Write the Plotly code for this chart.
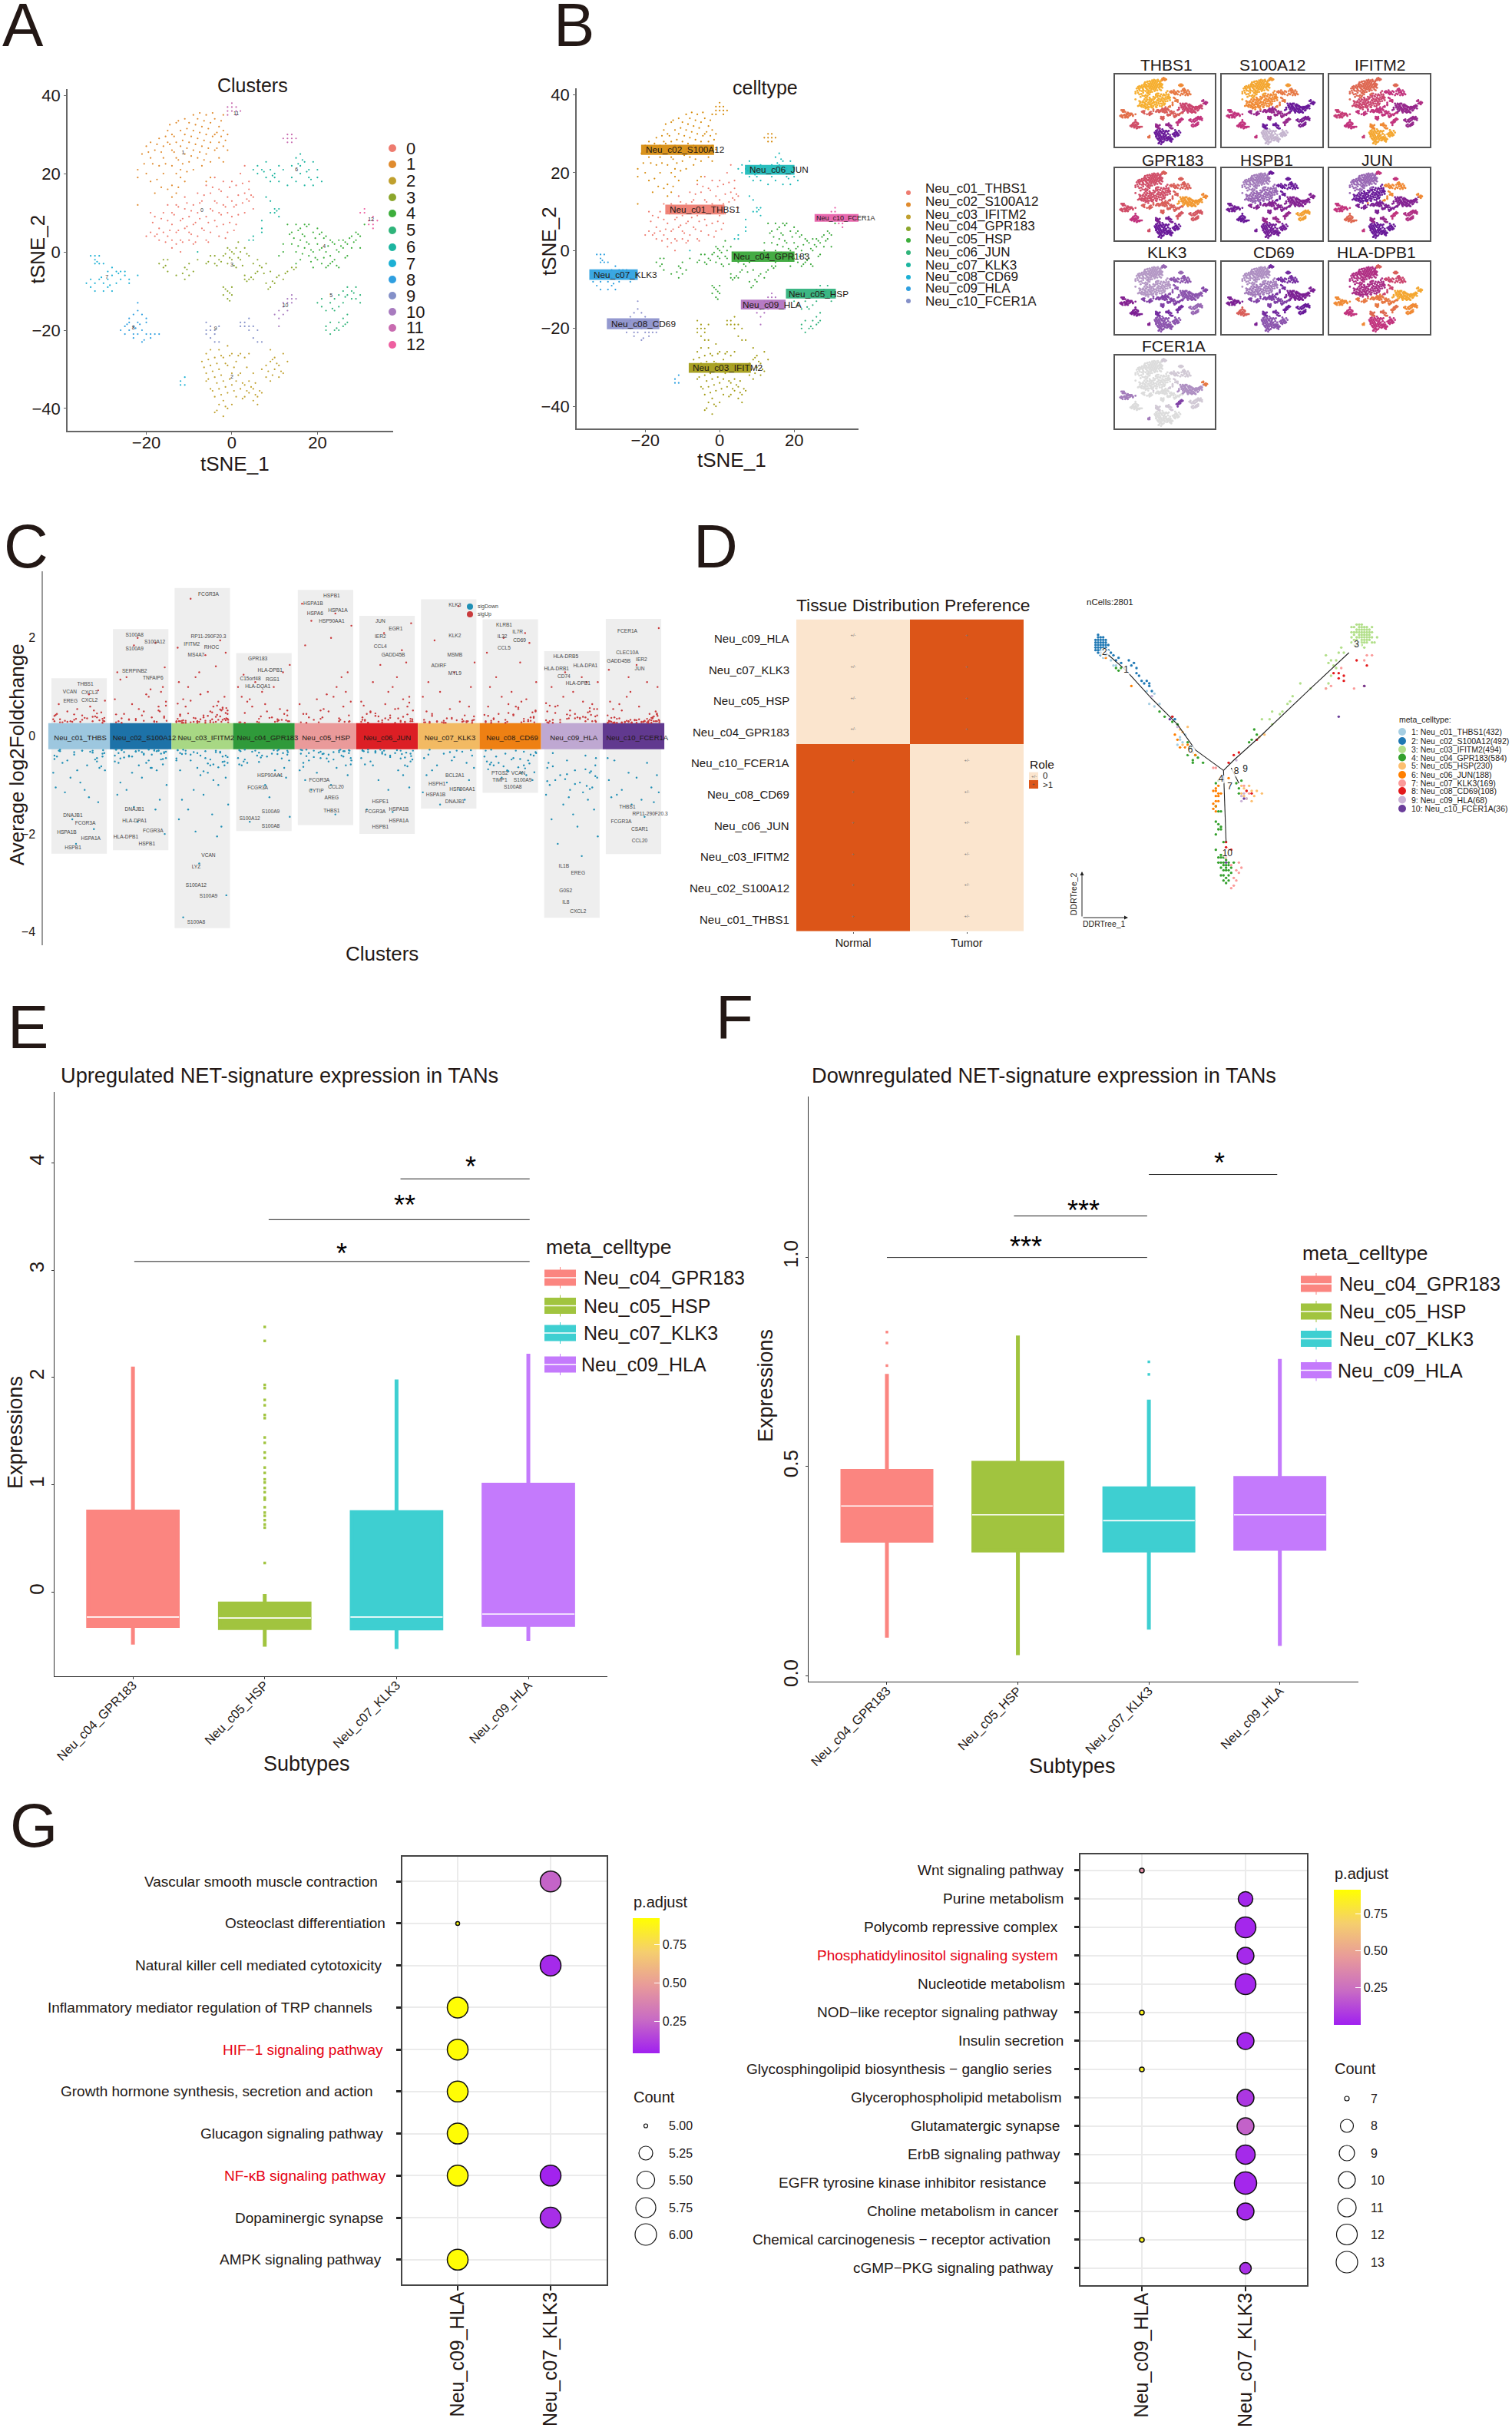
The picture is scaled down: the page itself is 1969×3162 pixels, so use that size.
import plotly.graph_objects as go

W, H = 1969, 3162
SANS = 'Liberation Sans'

# tSNE points, one list per cluster
CL0 = [(-20,4),(-19,5),(-18,4),(-19,10),(-18,9),(-17,6),(-17,3),(-16,5),(-16,10),(-15,4),(-15,8),(-15,12),(-14,3),(-14,7),(-14,10),(-13,5),(-13,2),(-13,12),(-12,8),(-12,3),(-11,6),(-11,11),(-11,14),(-10,3),(-10,9),(-10,5),(-9,2),(-9,12),(-9,7),(-8,4),(-8,10),(-8,15),(-7,6),(-7,13),(-6,3),(-6,9),(-6,17),(-5,5),(-5,11),(-5,15),(-4,8),(-4,13),(-4,19),(-3,4),(-3,10),(-3,16),(-2,7),(-2,12),(-2,18),(-1,5),(-1,10),(-1,14),(0,9),(0,13),(0,18),(1,7),(1,12),(1,17),(2,20),(3,22),(3,15),(3,10),(4,16),(4,13),(5,14),(5,11),(4,18),(-12,0),(-14,1),
       (-18.5,7.5),(-17.5,4.5),(-16.5,8.5),(-15.5,2.5),(-14.5,5.5),(-13.5,9.5),(-12.5,5.5),(-12.5,11.5),(-11.5,2.5),(-11.5,8.5),(-10.5,6.5),(-10.5,12.5),(-9.5,4.5),(-9.5,10.5),(-8.5,2.5),(-8.5,7.5),(-7.5,12.5),(-7.5,8.5),(-6.5,5.5),(-6.5,14.5),(-5.5,7.5),(-5.5,2.5),(-4.5,10.5),(-4.5,16.5),(-3.5,6.5),(-3.5,12.5),(-2.5,9.5),(-2.5,15.5),(-1.5,3.5),(-1.5,11.5),(-.5,7.5),(-.5,16.5),(.5,11.5),(.5,5.5),(1.5,14.5),(1.5,9.5),(2.5,12.5),(2.5,17.5),(3.5,13.5),(4.5,14.5)]
CL1 = [(-21,25),(-20,27),(-19,28),(-19,24),(-18,26),(-17,29),(-16,27),(-16,24),(-15,31),(-15,28),(-14,26),(-14,22),(-14,30),(-13,33),(-13,28),(-13,24),(-12,31),(-12,27),(-12,21),(-11,34),(-11,30),(-11,25),(-10,33),(-10,28),(-10,23),(-9,35),(-9,31),(-9,26),(-9,21),(-8,34),(-8,29),(-8,24),(-7,32),(-7,27),(-7,22),(-6,35),(-6,30),(-6,25),(-5,33),(-5,28),(-5,23),(-4,34),(-4,30),(-4,26),(-3,32),(-3,28),(-3,24),(-2,35),(-2,31),(-2,27),(-1,30),(-1,26),(-2,23),(-22,21),(-22,19),(-20,20),(-19,18),(-18,15),(-15,16),(-14,17),(-13,15),(-14,14),(-22,12),(-12,19),(-16,20),(-17,22),(-5,19),(-6,18),(-11,18),(-13,20),
       (-20.5,22.5),(-19.5,25.5),(-18.5,22.5),(-17.5,27.5),(-16.5,25.5),(-15.5,22.5),(-15.5,29.5),(-14.5,27.5),(-14.5,32.5),(-13.5,25.5),(-13.5,29.5),(-12.5,23.5),(-12.5,33.5),(-11.5,28.5),(-11.5,22.5),(-10.5,31.5),(-10.5,26.5),(-9.5,29.5),(-9.5,24.5),(-8.5,32.5),(-8.5,27.5),(-7.5,35.5),(-7.5,30.5),(-7.5,25.5),(-6.5,33.5),(-6.5,28.5),(-6.5,23.5),(-5.5,31.5),(-5.5,26.5),(-4.5,29.5),(-4.5,35.5),(-3.5,30.5),(-3.5,26.5),(-2.5,33.5),(-2.5,29.5),(-1.5,28.5),(-17.5,18.5),(-16.5,16.5),(-12.5,16.5),(-10.5,20.5)]
CL2 = [(-7,-28),(-6,-31),(-6,-26),(-6,-33),(-5,-29),(-5,-25),(-5,-35),(-4,-27),(-4,-32),(-4,-37),(-4,-41),(-3,-30),(-3,-25),(-3,-35),(-3,-39),(-2,-27),(-2,-33),(-2,-38),(-2,-42),(-1,-29),(-1,-24),(-1,-36),(-1,-40),(0,-26),(0,-31),(0,-34),(0,-39),(1,-28),(1,-33),(1,-37),(2,-26),(2,-31),(2,-35),(3,-27),(3,-34),(3,-37),(4,-26),(4,-33),(4,-36),(5,-35),(5,-38),(5,-31),(6,-37),(6,-39),(7,-36),(7,-30),(8,-29),(8,-32),(9,-28),(9,-33),(9,-25),(10,-30),(10,-27),(11,-32),(11,-29),(12,-31),(12,-26),(13,-28),
       (-6.5,-29.5),(-5.5,-27.5),(-5.5,-32.5),(-4.5,-30.5),(-4.5,-35.5),(-3.5,-28.5),(-3.5,-33.5),(-3.5,-40.5),(-2.5,-26.5),(-2.5,-31.5),(-2.5,-36.5),(-1.5,-34.5),(-1.5,-39.5),(-1.5,-28.5),(-.5,-32.5),(-.5,-26.5),(.5,-29.5),(.5,-35.5),(1.5,-31.5),(1.5,-26.5),(2.5,-33.5),(2.5,-37.5),(3.5,-29.5),(3.5,-35.5),(4.5,-34.5),(5.5,-36.5),(5.5,-33.5),(6.5,-35.5),(8.5,-30.5),(9.5,-31.5),(10.5,-28.5),(11.5,-30.5),(9.5,-27.5)]
CL3 = [(-17,-3),(-16,-2),(-16,-4),(-15,-2),(-15,-5),(-13,-6),(-11,-7),(-11,-4),(-10,-6),(-10,-3),(-9,-5),(-8,-2),(-6,-3),(-5,-1),(-4,-3),(-4,-1),(-3,-2),(-2,-1),(-1,1),(-1,-3),(0,0),(0,-2),(1,1),(1,-4),(2,0),(2,-2),(3,1),(3,-6),(3,-7),(4,-1),(4,-7),(5,-3),(5,-7),(6,-2),(6,-5),(7,-4),(8,-3),(8,-8),(9,-5),(9,-9),(10,-8),(11,-6),(12,-7),(13,-5),(14,-4),(15,-4),(-1,-10),(-2,-9),(0,-9),(-1,-12),(0,-11),(-2,-11),
       (-15.5,-3.5),(-11.5,-5.5),(-10.5,-4.5),(-5.5,-2.5),(-3.5,-3.5),(-2.5,-2.5),(-1.5,-.5),(-.5,.5),(-.5,-1.5),(.5,-.5),(.5,-3.5),(1.5,2.5),(1.5,-1.5),(2.5,-3.5),(3.5,-.5),(3.5,-7.5),(4.5,-6.5),(5.5,-5.5),(6.5,-3.5),(7.5,-5.5),(8.5,-9.5),(9.5,-7.5),(10.5,-6.5),(12.5,-5.5),(14.5,-4.5),(-.5,-10.5),(-1.5,-9.5),(-.5,-12.5)]
CL4 = [(13,7),(14,5),(14,2),(15,7),(15,0),(15,-3),(16,6),(16,3),(16,-2),(17,7),(17,4),(17,1),(18,7),(18,2),(18,-1),(19,5),(19,0),(19,-4),(20,6),(20,2),(20,-2),(21,5),(21,1),(21,-3),(22,4),(22,0),(22,-4),(23,3),(23,-1),(23,-3),(24,2),(24,-2),(25,3),(25,0),(25,-4),(26,3),(26,1),(27,2),(27,-1),(28,4),(28,1),(29,5),(29,3),(30,4),(30,1),(31,7),(12,0),(12,2),(11,-1),
       (13.5,4.5),(14.5,3.5),(15.5,5.5),(15.5,1.5),(16.5,-.5),(16.5,4.5),(17.5,2.5),(17.5,6.5),(18.5,.5),(18.5,-2.5),(19.5,3.5),(19.5,-1.5),(20.5,.5),(20.5,4.5),(21.5,-1.5),(21.5,3.5),(22.5,-3.5),(22.5,1.5),(23.5,-2.5),(23.5,2.5),(24.5,.5),(24.5,-3.5),(25.5,1.5),(26.5,2.5),(26.5,-1.5),(27.5,3.5),(28.5,2.5),(29.5,4.5)]
CL5 = [(20,-13),(21,-12),(21,-14),(22,-15),(23,-13),(24,-15),(24,-12),(25,-11),(25,-14),(26,-10),(26,-13),(27,-11),(27,-9),(28,-12),(28,-10),(29,-9),(29,-12),(30,-11),(30,-13),(22,-20),(22,-19),(23,-21),(23,-18),(24,-20),(25,-18),(25,-20),(26,-17),(26,-19),(27,-18),(27,-16),(23.5,-14.5),(26.5,-11.5),(28.5,-10.5),(24.5,-19.5),(26.5,-18.5)]
CL6 = [(5,21),(6,22),(6,20),(7,21),(8,23),(8,19),(9,21),(9,18),(10,20),(10,19),(11,22),(11,18),(12,21),(13,17),(14,22),(14,19),(15,24),(15,18),(16,25),(16,22),(16,20),(17,23),(17,17),(18,21),(18,19),(19,23),(19,17),(20,21),(20,19),(21,18),(8,14),(9,13),(10,11),(10,10),(11,11),(11,9),(9,10),(7,8),(7,6),(7,5),(4,3),(5,4),(5,3),(-8,0),(7.5,20.5),(9.5,19.5),(15.5,22.5),(16.5,23.5),(17.5,20.5),(18.5,18.5),(10.5,10.5)]
CL7 = [(-33,-1),(-32,-2),(-32,-1),(-31,-1),(-32,-3),(-31,-3),(-30,-3),(-29,-5),(-28,-4),(-27,-5),(-26,-5),(-25,-5),(-34,-8),(-33,-9),(-33,-7),(-32,-10),(-32,-8),(-31,-7),(-30,-8),(-30,-10),(-29,-7),(-29,-9),(-28,-6),(-28,-10),(-27,-8),(-26,-7),(-25,-6),(-24,-8),(-24,-7),(-22,-6),(-12,-33),(-11,-32),(-11,-34),(-12,-34),(-31.5,-2.5),(-30.5,-6.5),(-28.5,-8.5),(-26.5,-5.5)]
CL8 = [(-26,-20),(-25,-19),(-25,-21),(-24,-17),(-24,-20),(-24,-18),(-23,-16),(-23,-19),(-23,-21),(-23,-22),(-22,-15),(-22,-13),(-22,-18),(-22,-21),(-21,-16),(-21,-20),(-21,-23),(-20,-18),(-20,-21),(-20,-17),(-19,-21),(-19,-22),(-18,-21),(-17,-21),(-24.5,-18.5),(-22.5,-19.5),(-21.5,-18.5),(-20.5,-22.5)]
CL9 = [(-6,-18),(-6,-20),(-6,-21),(-5,-19),(-5,-20),(-5,-22),(-4,-21),(-4,-20),(-4,-23),(-3,-19),(-3,-23),(2,-18),(2,-19),(3,-19),(3,-18),(4,-17),(4,-19),(4,-20),(5,-19),(5,-22),(6,-20),(6,-23),(7,-23)]
CL10 = [(10,-16),(11,-15),(11,-17),(11,-19),(12,-16),(12,-14),(12,-13),(13,-15),(13,-13),(13,-12),(14,-13),(14,-12),(14,-11),(15,-12)]
CL11 = [(-1,36),(-1,37),(0,37),(0,36),(0,38),(1,36),(1,37),(2,36),(-1,35),(1,35),(12,29),(13,29),(13,28),(13,30),(14,29),(14,28),(14,30),(15,29)]
CL12 = [(30,10),(31,10),(31,11),(32,8),(32,7),(33,8),(33,9),(34,8),(33,6),(33,7)]
CLUSTERS = [CL0, CL1, CL2, CL3, CL4, CL5, CL6, CL7, CL8, CL9, CL10, CL11, CL12]
CLUSTER_TEXT_POS = [(-7,10.6),(-11.4,25.3),(0,-32),(0,-3.3),(21.6,1.4),(23.2,-11.3),(15.1,20.9),(-29.2,-6.6),(-23,-19.4),(-3.8,-19.7),(12.5,-13.8),(1,35.2),(32.5,8.2)]

CELLTYPES = ['Neu_c01_THBS1','Neu_c02_S100A12','Neu_c03_IFITM2','Neu_c04_GPR183','Neu_c05_HSP','Neu_c06_JUN','Neu_c07_KLK3','Neu_c08_CD69','Neu_c09_HLA','Neu_c10_FCER1A']
CLUSTER_TO_TYPE = [0, 1, 2, 3, 3, 4, 5, 6, 7, 2, 8, 1, 9]
CELLTYPE_BOXES = [(-14.6,1.3,9.3,11.8,-13.7,10.5),(-21.1,-1.5,24.6,27.2,-20.1,25.9),(-8.3,8.4,-31.4,-28.9,-7.5,-30.2),(3.2,20.1,-2.9,-0.24,3.5,-1.6),(17.8,31.2,-12.3,-9.8,18.4,-11.1),(6.8,20.1,19.5,22.0,7.8,20.8),(-35,-22,-7.5,-4.8,-34.1,-6.2),(-30.3,-16.2,-20.2,-17.4,-29.3,-18.8),(5.7,17.7,-15.1,-12.6,6,-13.9),(25.5,37.4,7.4,9.4,25.7,8.4)]

# feature maps: one level per cluster, 0 = no expression, 4 = highest
GENES = ['THBS1','S100A12','IFITM2','GPR183','HSPB1','JUN','KLK3','CD69','HLA-DPB1','FCER1A']
THBS1 = [3.5,3.5,1.0,2.5,2.2,2.0,2.8,2.7,2.3,1.5,2.0,3.0,1.8]
S100A12 = [3.0,3.4,0.2,1.5,1.0,1.2,2.8,2.0,2.0,1.0,1.5,3.2,1.0]
IFITM2 = [2.2,2.6,3.4,2.0,1.5,1.5,2.0,2.1,2.0,3.0,2.0,2.6,1.8]
GPR183 = [2.3,2.3,1.0,2.5,3.2,2.4,2.5,2.3,2.0,1.2,2.4,2.5,3.0]
HSPB1 = [0.6,0.5,1.1,1.3,1.3,3.3,1.0,1.1,1.0,1.5,1.5,1.0,1.3]
JUN = [1.0,0.6,1.0,1.2,1.3,1.8,3.0,2.0,2.6,1.5,2.0,2.0,3.0]
KLK3 = [0.35,0.35,0.7,0.8,0.7,0.6,0.7,1.3,1.2,0.9,0.9,0.6,0.8]
CD69 = [0.5,0.4,0.7,0.8,1.2,1.0,0.9,1.2,2.5,0.9,1.0,0.9,1.2]
HLA_DPB1 = [1.7,1.8,2.0,2.8,3.4,3.0,2.2,3.0,2.0,2.6,2.7,2.5,3.4]
FCER1A = [0,0,0,0,0.4,0.1,0.1,0.5,0,0.1,0.8,0.1,2.8]
GENE_LEVELS = [THBS1, S100A12, IFITM2, GPR183, HSPB1, JUN, KLK3, CD69, HLA_DPB1, FCER1A]

# volcano columns
VOLCANO_NAMES = ['Neu_c01_THBS','Neu_c02_S100A12','Neu_c03_IFITM2','Neu_c04_GPR183','Neu_c05_HSP','Neu_c06_JUN','Neu_c07_KLK3','Neu_c08_CD69','Neu_c09_HLA','Neu_c10_FCER1A']
VOLCANO_TOP = [1.18,2.18,3.02,1.69,2.98,2.45,2.79,2.38,1.73,2.39]
VOLCANO_BOTTOM = [-2.40,-2.33,-3.92,-1.94,-1.82,-2.0,-1.48,-1.16,-3.71,-2.41]
JITTER = [-.31,.22,-.08,.38,-.4,.05,.29,-.19,.41,-.27,.13,-.36,.33,-.03,.18,-.42,.26,-.14,.36,.02,-.33,.09,.42,-.23,.16,-.38,.31,-.11,.24,-.05,.39]
UP_VALUES = [
    [.28,.3,.33,.35,.3,.42,.38,.5,.3,.28,.36,.45,.32,.55,.6,.34,.4,.3,.48,.29,.65,.37,.72,.31,.85,.43,.93,.29,.52,.35,.31,.34,.39,.44,.27,.41,.33,.46,.29,.37],
    [.27,.3,.35,.4,.28,.5,.6,.33,.7,.45,.8,.3,.9,.55,.38,.75,.29,.65,1.0,.42,1.15,.85,.31,1.2,.95,1.3,.5,1.85,1.9,2.0,1.4,.36,.29,.32,.37,.44,.31,.52,.34,.62],
    [.27,.29,.3,.32,.35,.27,.4,.28,.45,.31,.5,.3,.55,.34,.6,.28,.7,.37,.8,.42,.27,.9,.33,1.0,.48,1.1,.29,1.2,.62,1.3,.36,.75,1.42,.3,1.7,1.8,1.65,1.95,2.8,.52,.27,.31,.44,.58,.85,.28,.3,.33,.29,.35,.38,.31,.41,.28,.46,.34,.3,.52,.36,.43,.29,.57,.32,.39,.27,.47,.66,.31,.54,.72,.35,.6,.28,.41,.33],
    [.27,.3,.35,.42,.28,.5,.33,.6,.3,.7,.38,.8,.45,.9,.29,1.0,.55,1.1,.32,.65,1.25,.37,1.45,.75,1.0,.28,1.3,.29,.32,.4,.3,.47,.34,.28,.52],
    [.27,.3,.35,.42,.28,.5,.6,.33,.7,.38,.8,.45,.9,.55,1.0,.65,1.2,.75,1.3,.85,1.85,2.0,2.25,2.35,2.5,2.7,.29,.28,.33,.38,.3,.45,.36,.52,.29],
    [.27,.29,.32,.35,.38,.42,.28,.46,.3,.5,.55,.33,.6,.65,.36,.7,.75,.4,.8,.9,.45,1.0,.52,1.1,1.2,.62,1.5,1.45,1.75,2.1,2.3,.27,.31,.28,.3,.33,.37,.29,.41,.34,.48,.27,.31,.44,.36,.56,.29,.39,.3,.68,.33],
    [.27,.29,.31,.27,.33,.35,.28,.3,.4,.45,.32,.5,.6,.36,.7,.8,.42,.9,1.0,.55,1.1,1.3,1.5,1.95,2.65,.28,.3,.28,.3,.27,.32,.29,.34,.27,.31,.28,.37,.3,.29,.33,.41],
    [.27,.3,.33,.37,.28,.42,.3,.45,.5,.34,.55,.6,.38,.65,.7,.43,.75,.8,.48,.9,1.0,.6,1.1,1.2,1.5,1.7,1.9,2.0,2.1,.29,.28,.31,.35,.27,.39,.3,.44,.33,.29,.52,.36,.58,.41,.31,.47,.28],
    [.27,.3,.35,.4,.28,.45,.5,.33,.55,.6,.37,.3,.65,.42,.7,.32,.48,.8,.55,.9,1.0,.38,1.1,.62,1.2,.27,.43,1.3,1.1,.36,.29,.33,.38,.44,.31,.5,.36,.57,.28,.42,.47,.35,.62,.3,.52,.39,.67,.34],
    [.27,.28,.29,.3,.31,.27,.32,.28,.33,.35,.29,.37,.4,.27,.3,.42,.45,.28,.5,.33,.55,.6,.31,.65,.29,.7,.36,.8,.3,.9,1.0,.38,1.1,1.2,.44,1.35,1.45,.27,.52,2.2,.27,.28,.29,.3,.28,.31,.27,.33,.29,.3,.32,.27,.34,.28,.36,.29,.3,.38,.31,.27,.33,.41,.28,.35,.3,.46,.29,.32,.37,.27],
]
DOWN_VALUES = [
    [-.28,-.3,-.33,-.36,-.4,-.3,-.45,-.5,-.35,-.55,-.6,-.42,-.65,-.7,-.32,-.75,-.48,-.85,-.62,-.95,-.3,-1.1,-.7,-1.15,-1.25,-1.05,-1.35,-1.7,-1.9,-2.2,-.29,-.31,-.34,-.38,-.42,-.47,-.3,-.52],
    [-.28,-.3,-.32,-.35,-.28,-.38,-.3,-.42,-.45,-.33,-.5,-.55,-.36,-.6,-.65,-.4,-.7,-.75,-.47,-.85,-.95,-.55,-1.0,-1.1,-.65,-1.2,-1.3,-1.45,-1.5,-1.75,-2.0,-.29,-.29,-.31,-.33,-.28,-.36,-.3,-.4,-.32,-.44,-.28,-.35,-.48,-.3,-.38,-.52,-.31,-.42,-.58,-.33,-.46],
    [-.28,-.3,-.35,-.4,-.29,-.45,-.32,-.5,-.55,-.36,-.6,-.7,-.42,-.8,-.9,-.5,-1.0,-1.1,-.6,-1.2,-1.3,-.75,-1.4,-1.5,-1.6,-1.7,-1.85,-1.95,-2.05,-2.6,-3.25,-3.7,-.33,-.65,-.85,-.29,-.31,-.34,-.38,-.43,-.3,-.48,-.35,-.53,-.4,-.58,-.46,-.64,-.33,-.52,-.72,-.37,-.56],
    [-.28,-.3,-.34,-.38,-.29,-.42,-.46,-.32,-.5,-.55,-.36,-.6,-.65,-.4,-.7,-.45,-.8,-.3,-.85,-1.0,-.52,-1.25,-1.65,-1.75,-.29,-.31,-.35,-.4,-.28,-.44,-.33,-.48,-.37,-.53,-.3,-.58],
    [-.28,-.3,-.32,-.35,-.28,-.38,-.42,-.3,-.45,-.5,-.33,-.55,-.6,-.36,-.65,-.7,-.4,-.75,-.8,-.46,-.9,-1.0,-.5,-1.1,-1.6,-.29,-.31,-.34,-.28,-.37,-.3,-.41,-.33,-.45,-.29,-.36,-.52,-.31,-.43,-.58,-.35,-.48,-.63],
    [-.28,-.3,-.33,-.36,-.29,-.4,-.44,-.31,-.48,-.52,-.35,-.58,-.62,-.38,-.7,-.45,-.8,-.9,-1.05,-1.1,-1.5,-1.55,-.3,-.6,-.29,-.31,-.34,-.28,-.37,-.3,-.41,-.33,-.46,-.36,-.52,-.3,-.43,-.6,-.34,-.48],
    [-.28,-.32,-.36,-.4,-.45,-.5,-.55,-.6,-.65,-.7,-.3,-.8,-.9,-.95,-1.1,-1.15,-1.3,-1.4,-.29,-.33,-.38,-.43],
    [-.28,-.32,-.36,-.4,-.3,-.45,-.5,-.55,-.33,-.6,-.64,-.68,-.38,-.72,-.75,-.42,-.8,-.85,-.9,-.48,-.58,-.3,-.35,-.42,-.47,-.52,-.56,-.62,-.66,-.7,-.74,-.54,-.6],
    [-.35,-.4,-.5,-.6,-.65,-.7,-.75,-.8,-.85,-.9,-.95,-1.0,-1.05,-1.1,-1.15,-1.2,-1.3,-1.4,-1.5,-1.6,-1.7,-1.85,-2.05,-2.2,-2.45,-.55,-.72,-.88,-1.02,-1.25,-.45,-.62,-.68,-.78,-.82,-.92,-.98,-1.08],
    [-.5,-.55,-.75,-.8,-.9,-.85,-1.05,-1.1,-1.15,-1.2,-1.3,-1.25,-1.35,-1.4,-1.65,-.45],
]
# gene name, offset from the column centre, log2FC
VOLCANO_LABELS = [
    [('THBS1',.10,1.05),('VCAN',-.15,.90),('CXCL3',.17,.88),('EREG',-.14,.71),('CXCL2',.17,.72),('DNAJB1',-.10,-1.63),('FCGR3A',.10,-1.79),('HSPA1B',-.20,-1.98),('HSPA1A',.19,-2.09),('HSPB1',-.10,-2.28)],
    [('S100A8',-.10,2.05),('S100A12',.23,1.91),('S100A9',-.10,1.77),('SERPINB2',-.10,1.32),('TNFAIP6',.20,1.18),('DNAJB1',-.10,-1.51),('HLA-DPA1',-.10,-1.74),('FCGR3A',.20,-1.94),('HLA-DPB1',-.24,-2.07),('HSPB1',.10,-2.21)],
    [('FCGR3A',.10,2.89),('RP11-290F20.3',.10,2.02),('IFITM2',-.17,1.87),('RHOC',.15,1.80),('MS4A7',-.10,1.65),('VCAN',.10,-2.44),('LYZ',-.10,-2.68),('S100A12',-.10,-3.05),('S100A9',.10,-3.27),('S100A8',-.10,-3.80)],
    [('GPR183',-.10,1.57),('HLA-DPB1',.10,1.34),('C15orf48',-.22,1.16),('RGS1',.14,1.15),('HLA-DQA1',-.10,1.0),('HSP90AA1',.10,-.82),('FCGR3A',-.10,-1.07),('S100A9',.11,-1.55),('S100A12',-.23,-1.69),('S100A8',.11,-1.84)],
    [('HSPB1',.10,2.85),('HSPA1B',-.20,2.70),('HSPA1A',.20,2.55),('HSPA6',-.17,2.49),('HSP90AA1',.10,2.34),('FCGR3A',-.10,-.90),('CCL20',.17,-1.05),('CYTIP',-.15,-1.12),('AREG',.10,-1.27),('THBS1',.10,-1.54)],
    [('JUN',-.11,2.33),('EGR1',.14,2.18),('IER2',-.11,2.03),('CCL4',-.11,1.82),('GADD45B',.10,1.65),('HSPE1',-.11,-1.34),('HSPA1B',.19,-1.51),('FCGR3A',-.19,-1.55),('HSPA1A',.19,-1.73),('HSPB1',-.11,-1.87)],
    [('KLK3',.10,2.67),('KLK2',.10,2.04),('MSMB',.10,1.65),('ADIRF',-.16,1.42),('MYL9',.10,1.27),('BCL2A1',.10,-.82),('HSPH1',-.19,-.98),('HSP90AA1',.22,-1.10),('HSPA1B',-.21,-1.21),('DNAJB1',.10,-1.35)],
    [('KLRB1',-.10,2.26),('IL7R',.12,2.12),('IL32',-.13,2.03),('CD69',.15,1.95),('CCL5',-.10,1.79),('PTGS2',-.17,-.76),('VCAN',.13,-.77),('TIMP1',-.17,-.91),('S100A9',.20,-.91),('S100A8',.04,-1.05)],
    [('HLA-DRB5',-.10,1.61),('HLA-DPA1',.22,1.43),('HLA-DRB1',-.25,1.37),('CD74',-.13,1.21),('HLA-DPB1',.10,1.07),('IL1B',-.13,-2.66),('EREG',.10,-2.81),('G0S2',-.10,-3.17),('IL8',-.10,-3.40),('CXCL2',.10,-3.59)],
    [('FCER1A',-.10,2.13),('CLEC10A',-.10,1.70),('GADD45B',-.24,1.52),('IER2',.13,1.55),('JUN',.10,1.37),('THBS1',-.10,-1.45),('RP11-290F20.3',.27,-1.60),('FCGR3A',-.20,-1.76),('CSAR1',.10,-1.91),('CCL20',.10,-2.14)],
]

# tissue preference
ROLE_ROWS = ['Neu_c01_THBS1','Neu_c02_S100A12','Neu_c03_IFITM2','Neu_c06_JUN','Neu_c08_CD69','Neu_c10_FCER1A','Neu_c04_GPR183','Neu_c05_HSP','Neu_c07_KLK3','Neu_c09_HLA']
ROLE_NORMAL = [1,1,1,1,1,1,0,0,0,0]
ROLE_TUMOR = [0,0,0,0,0,0,1,1,1,1]

# DDRTree trajectory
TRAJ_LEGEND = ['1: Neu_c01_THBS1(432)','2: Neu_c02_S100A12(492)','3: Neu_c03_IFITM2(494)','4: Neu_c04_GPR183(584)','5: Neu_c05_HSP(230)','6: Neu_c06_JUN(188)','7: Neu_c07_KLK3(169)','8: Neu_c08_CD69(108)','9: Neu_c09_HLA(68)','10: Neu_c10_FCER1A(36)']
TRAJ_C01 = [(14,21),(15,23),(16,23),(19,24),(11,20),(13,19),(28,33),(30,35),(31,34),(29,38),(31,39),(33,38),(41,51),(42,53),(41,52),(43,50),(40,54),(39,44)]
TRAJ_C02 = [(8,15),(9,13),(9,15),(9,17),(10,12),(10,14),(10,16),(10,18),(11,13),(11,15),(11,17),(12,14),(12,16),(9,14),(10,15),(11,16),(9,11),(8,16),(10,19),(12,19),(15,19),(16,21),(17,20),(18,22),(21,21),(22,23),(23,22),(24,24),(24,26),(26,29),(27,30),(28,29),(29,31),(29,30),(25,27),(30,33),(38,43),(39,44),(8,13),(8,14),(9,12),(9,16),(10,13),(10,17),(11,14),(11,12),(12,15),(12,13),(13,15),(13,17),(14,18),(9,18),(8,17)]
TRAJ_C03 = [(108,10),(109,8),(110,12),(110,9),(111,7),(111,11),(111,14),(112,9),(112,13),(113,10),(113,16),(113,12),(114,8),(114,11),(114,14),(115,9),(115,13),(116,10),(116,12),(112,15),(110,15),(109,13),(111,10),(112,11),(113,8),(117,14),(118,12),(98,19),(99,22),(100,21),(101,23),(102,21),(103,18),(104,16),(105,18),(100,27),(99,30),(98,32),(102,24),(88,30),(92,32),(85,35),(84,37),(83,38),(81,41),(77,41),(76,44),(77,46),(73,44),(80,42),
            (108,8),(109,10),(109,11),(110,7),(110,10),(110,13),(111,8),(111,9),(111,12),(112,7),(112,8),(112,10),(112,12),(112,14),(113,9),(113,11),(113,13),(113,14),(114,9),(114,10),(114,12),(114,13),(115,10),(115,11),(115,12),(116,8),(116,14),(108,12),(108,14),(109,15)]
TRAJ_C04 = [(17,25),(18,24),(16,24),(33,41),(35,43),(38,45),(40,46),(44,53),(45,55),(47,58),(46,60),(48,59),(44,58),(46,61),(50,61),(70,48),(69,52),(68,53),(71,50),(63,69),(64,71),(64,73),(65,68),(55,69),(56,68),(55,78),(56,80),(57,80),(55,84),(56,85),(57,86),(56,87),(55,89),(57,87),(58,92),(55,95),(56,98),(57,97),(58,100),(59,99),(60,100),(57,102),(58,103),(59,101),(60,103),(61,102),(57,105),(59,106),(60,105),(57,98),(58,98),(59,102),(60,101),(58,105),(59,103),(61,104),(56,100),(57,100),(58,101),(60,107),(59,108),(58,107),(62,100)]
TRAJ_C05 = [(65,70),(66,71),(67,72),(66,74),(68,70),(65,73),(69,72),(67,75),(70,74),(69,76),(71,72),(73,73),(72,51),(74,50),(41,48),(42,49),(42,54),(44,47)]
TRAJ_C06 = [(39,50),(40,52),(41,55),(43,55),(44,54),(46,57),(47,58),(12,20),(22,31),(55,72),(56,73),(55,74),(56,76),(55,78),(54,79),(56,70),(60,67),(54,72),(55,71),(56,74),(57,73),(55,76),(54,77),(55,80)]
TRAJ_C07 = [(54,63),(55,63),(60,95),(61,101),(63,103),(64,104),(62,106),(63,107),(62,109),(61,110),(64,100),(65,102),(66,70),(68,73),(116,19),(113,21),(114,19),(100,31),(98,32),(104,24),(109,32)]
TRAJ_C08 = [(105,27),(103,28),(105,29),(103,26),(101,26),(110,21),(114,23),(38,43),(60,61),(62,58),(64,57),(71,52),(69,73),(67,72),(59,92),(59,94),(113,31),(59,98),(61,95)]
TRAJ_C09 = [(30,35),(65,74),(67,75),(66,73),(63,60),(40,47),(65,76)]
TRAJ_C10 = [(103,43),(113,31),(66,75),(59,100),(37,44)]
TRAJ_POINTS = [TRAJ_C01, TRAJ_C02, TRAJ_C03, TRAJ_C04, TRAJ_C05, TRAJ_C06, TRAJ_C07, TRAJ_C08, TRAJ_C09, TRAJ_C10]
TREE_LEFT = [(12,18),(20,25),(30,36),(40,46),(47,56),(58,64)]
TREE_RIGHT = [(107,18),(92,32),(72,51),(62,60),(58,64)]
TREE_DOWN = [(58,64),(58.5,80),(59,92)]
TREE_SIDE = [(61,63),(64,69)]
TREE_NODES = [('1',20,25),('2',11.5,18),('3',110,15),('4',57,67.5),('6',45,56),('7',60.5,70.5),('8',63,64.5),('9',66.5,63.5),('10',59.5,96.5)]

# boxplots E and F
BOX_NAMES = ['Neu_c04_GPR183','Neu_c05_HSP','Neu_c07_KLK3','Neu_c09_HLA']
E_Q1 = [-.317,-.335,-.34,-.307]
E_MEDIAN = [-.233,-.242,-.233,-.205]
E_Q3 = [.75,-.107,.745,1.0]
E_LOW = [-.49,-.51,-.53,-.456]
E_HIGH = [2.10,-.02,1.98,2.22]
E_OUTLIERS_C05 = [.27,.60,.63,.67,.71,.74,.79,.86,.88,.93,.97,1.02,1.05,1.11,1.16,1.25,1.30,1.39,1.44,1.62,1.65,1.74,1.79,1.90,1.93,2.34,2.47]
E_SIG_Y = [3.08,3.47,3.85]
E_SIG_X0 = [.01,1.03,2.03]
E_SIG_X1 = [3.01,3.01,3.01]
E_STARS = ['*','**','*']
E_STAR_X = [1.585,2.06,2.56]
E_STAR_Y = [3.21,3.66,4.02]
F_Q1 = [.323,.30,.30,.304]
F_MEDIAN = [.406,.385,.371,.385]
F_Q3 = [.49,.509,.448,.473]
F_LOW = [.092,.05,.111,.072]
F_HIGH = [.721,.813,.66,.757]
F_OUTLIERS_C04 = [.741,.795,.821]
F_OUTLIERS_C07 = [.72,.75]
F_SIG_Y = [.999,1.098,1.197]
F_SIG_X0 = [0,.97,2.0]
F_SIG_X1 = [1.987,1.987,2.98]
F_STARS = ['***','***','*']
F_STAR_X = [1.06,1.5,2.54]
F_STAR_Y = [1.04,1.125,1.24]

# enrichment dot plots G
G1_TERMS = ['AMPK signaling pathway','Dopaminergic synapse','NF-κB signaling pathway','Glucagon signaling pathway','Growth hormone synthesis, secretion and action','HIF−1 signaling pathway','Inflammatory mediator regulation of TRP channels','Natural killer cell mediated cytotoxicity','Osteoclast differentiation','Vascular smooth muscle contraction']
G1_RED = ['NF-κB signaling pathway','HIF−1 signaling pathway']
G1_X = ['Neu_c09_HLA','Neu_c07_KLK3','Neu_c09_HLA','Neu_c07_KLK3','Neu_c09_HLA','Neu_c09_HLA','Neu_c09_HLA','Neu_c09_HLA','Neu_c07_KLK3','Neu_c09_HLA','Neu_c07_KLK3']
G1_Y = ['AMPK signaling pathway','Dopaminergic synapse','NF-κB signaling pathway','NF-κB signaling pathway','Glucagon signaling pathway','Growth hormone synthesis, secretion and action','HIF−1 signaling pathway','Inflammatory mediator regulation of TRP channels','Natural killer cell mediated cytotoxicity','Osteoclast differentiation','Vascular smooth muscle contraction']
G1_COUNT = [6,6,6,6,6,6,6,6,6,5,6]
G1_PADJ = [.91,.08,.91,.05,.91,.91,.91,.91,.07,.91,.24]
G1_LEGEND_COUNTS = ['5.00','5.25','5.50','5.75','6.00']
G2_TERMS = ['cGMP−PKG signaling pathway','Chemical carcinogenesis − receptor activation','Choline metabolism in cancer','EGFR tyrosine kinase inhibitor resistance','ErbB signaling pathway','Glutamatergic synapse','Glycerophospholipid metabolism','Glycosphingolipid biosynthesis − ganglio series','Insulin secretion','NOD−like receptor signaling pathway','Nucleotide metabolism','Phosphatidylinositol signaling system','Polycomb repressive complex','Purine metabolism','Wnt signaling pathway']
G2_RED = ['Phosphatidylinositol signaling system']
G2_X = ['Neu_c07_KLK3','Neu_c09_HLA','Neu_c07_KLK3','Neu_c07_KLK3','Neu_c07_KLK3','Neu_c07_KLK3','Neu_c07_KLK3','Neu_c09_HLA','Neu_c07_KLK3','Neu_c09_HLA','Neu_c07_KLK3','Neu_c07_KLK3','Neu_c07_KLK3','Neu_c07_KLK3','Neu_c09_HLA']
G2_Y = G2_TERMS
G2_COUNT = [8,7,10,13,11,10,10,7,10,7,12,10,12,9,7]
G2_PADJ = [.05,.85,.03,.02,.03,.2,.07,.85,.02,.85,.02,.03,.02,.02,.4]
G2_LEGEND_COUNTS = ['7','8','9','10','11','12','13']
G1_DIAMETER = {5: 5, 6: 27}
G2_DIAMETER = {7: 6, 8: 15, 9: 19, 10: 22, 11: 25, 12: 27, 13: 29}

CLUSTER_COLORS = ['#EE7B6F','#E08B2E','#C0A02E','#8CA62C','#3DAE3C','#2FB47A','#1CB5A0','#1CB0D4','#2F9FE0','#8490C8','#A87BBF','#C86BB0','#EE5FA0']
TYPE_COLORS = ['#EE7B6F','#D68A0A','#A29A12','#34A534','#2BB07A','#18B8B8','#2A9FE0','#8A8FCB','#B070BF','#E65CA8']
TYPE_LEGEND_COLORS = ['#EE7B6F','#E08B2E','#C0A02E','#8CA62C','#3DAE3C','#2FB47A','#1CB5A0','#1CB0D4','#2F9FE0','#8490C8']
BAND_COLORS = ['#9DC7DF','#1D72A8','#A8D884','#2F9A3A','#EA9A9A','#DC1F25','#F2BA63','#EE8013','#BFA8D2','#61398F']
TRAJ_COLORS = ['#A6CEE3','#1F78B4','#B2DF8A','#33A02C','#FDBF6F','#FF7F00','#FB9A99','#E31A1C','#CAB2D6','#6A3D9A']
BOX_COLORS = ['#FB8580','#A1C43F','#3ECFD1','#C47AFC']
FEATURE_SCALE = [[0,'#DCDCDC'],[.25,'#6A1B9A'],[.5,'#C2347E'],[.75,'#F08A35'],[1,'#FBD32A']]
PADJ_SCALE = [[0,'#A020F0'],[.25,'#C86BC4'],[.5,'#E89A9A'],[.75,'#F5CE6E'],[1,'#FFFF00']]

fig = go.Figure()
annotations = []
shapes = []
layout = {}


def add_axes(n, box, xaxis, yaxis):
    # box is left, top, right, bottom in page pixels
    x0, y0, x1, y1 = box
    xaxis = dict(domain=[x0 / W, x1 / W], anchor=f'y{n}', showgrid=False, zeroline=False, automargin=False, **xaxis)
    yaxis = dict(domain=[1 - y1 / H, 1 - y0 / H], anchor=f'x{n}', showgrid=False, zeroline=False, automargin=False, **yaxis)
    layout[f'xaxis{n}'] = xaxis
    layout[f'yaxis{n}'] = yaxis


def text(x, y, s, size, anchor='left', color='#231815', font=SANS, angle=0):
    annotations.append(dict(x=x / W, y=1 - y / H, xref='paper', yref='paper', text=s, showarrow=False,
                            xanchor=anchor, yanchor='middle', textangle=angle,
                            font=dict(size=size, color=color, family=font), borderpad=0))


def rect(x0, y0, x1, y1, color):
    shapes.append(dict(type='rect', xref='paper', yref='paper', x0=x0 / W, x1=x1 / W, y0=1 - y0 / H, y1=1 - y1 / H,
                       fillcolor=color, line=dict(width=0)))


def dot(x, y, d, fill, line='rgba(0,0,0,0)', width=0):
    shapes.append(dict(type='circle', xref='paper', yref='paper', x0=(x - d / 2) / W, x1=(x + d / 2) / W,
                       y0=1 - (y - d / 2) / H, y1=1 - (y + d / 2) / H, fillcolor=fill, line=dict(color=line, width=width)))


def seg(x0, y0, x1, y1, color, width=1):
    shapes.append(dict(type='line', xref='paper', yref='paper', x0=x0 / W, x1=x1 / W, y0=1 - y0 / H, y1=1 - y1 / H,
                       line=dict(color=color, width=width)))


def xs(points):
    return [p[0] for p in points]


def ys(points):
    return [p[1] for p in points]


for letter, x, y in [('A', 2, 32), ('B', 720, 32), ('C', 4, 712), ('D', 902, 712), ('E', 9, 1338), ('F', 931, 1324), ('G', 12, 2377)]:
    text(x, y, letter, 80)

# Panel A
tsne_axis = dict(showline=True, linecolor='#666666', linewidth=1.5, ticks='outside', ticklen=3, tickcolor='#666666',
                 tickfont=dict(size=22, color='#231815'))
add_axes(20, (88, 115.5, 512, 561), dict(range=[-38.4, 37.7], tickvals=[-20, 0, 20], ticklabelstandoff=-8, **tsne_axis),
         dict(range=[-45.7, 41.7], tickvals=[-40, -20, 0, 20, 40], **tsne_axis))
for i, pts in enumerate(CLUSTERS):
    fig.add_trace(go.Scatter(x=xs(pts), y=ys(pts), mode='markers', xaxis='x20', yaxis='y20', showlegend=False,
                             marker=dict(size=2.2, color=CLUSTER_COLORS[i])))
fig.add_trace(go.Scatter(x=xs(CLUSTER_TEXT_POS), y=ys(CLUSTER_TEXT_POS), text=[str(i) for i in range(13)], mode='text',
                         xaxis='x20', yaxis='y20', showlegend=False, textfont=dict(size=7, color='#333333')))
text(329, 111, 'Clusters', 25, 'center')
text(306, 604, 'tSNE_1', 26, 'center')
text(48, 324.5, 'tSNE_2', 26, 'center', angle=-90)
A_LEGEND_Y = [193, 214, 235.5, 257, 278, 300, 322, 343, 364, 385, 406, 427, 449]
for i, y in enumerate(A_LEGEND_Y):
    dot(511, y, 10, CLUSTER_COLORS[i])
    text(528, y, str(i), 22)

# Panel B
add_axes(2, (751, 115, 1118, 558), dict(range=[-38.4, 37.3], tickvals=[-20, 0, 20], ticklabelstandoff=-8, **tsne_axis),
         dict(range=[-45.7, 41.7], tickvals=[-40, -20, 0, 20, 40], **tsne_axis))
for i, pts in enumerate(CLUSTERS):
    fig.add_trace(go.Scatter(x=xs(pts), y=ys(pts), mode='markers', xaxis='x2', yaxis='y2', showlegend=False,
                             marker=dict(size=2.2, color=TYPE_COLORS[CLUSTER_TO_TYPE[i]])))
for i, (x0, x1, y0, y1, tx, ty) in enumerate(CELLTYPE_BOXES):
    shapes.append(dict(type='rect', xref='x2', yref='y2', x0=x0, x1=x1, y0=y0, y1=y1, layer='above', opacity=.92,
                       fillcolor=TYPE_COLORS[i], line=dict(width=0)))
    annotations.append(dict(x=tx, y=ty, xref='x2', yref='y2', text=CELLTYPES[i], showarrow=False, xanchor='left',
                            yanchor='middle', borderpad=0, font=dict(size=9 if i == 9 else 11.8, color='#231815', family=SANS)))
text(997, 114, 'celltype', 25, 'center')
text(953, 599, 'tSNE_1', 26, 'center')
text(715, 314, 'tSNE_2', 26, 'center', angle=-90)
B_DOT_Y = [251, 266.5, 282.5, 298, 313, 329, 345, 361, 376, 392]
B_TEXT_Y = [246, 262.5, 279, 295, 311, 328, 345, 361, 376, 393]
for i in range(10):
    dot(1183, B_DOT_Y[i], 6, TYPE_LEGEND_COLORS[i])
    text(1204, B_TEXT_Y[i], CELLTYPES[i], 17)

# feature maps next to panel B
FEATURE_BOXES = [(1452, 97, 1582, 191), (1591, 97, 1722, 191), (1731, 97, 1862, 191),
                 (1452, 219, 1582, 313), (1591, 219, 1722, 313), (1731, 219, 1862, 313),
                 (1452, 341, 1582, 435), (1591, 341, 1722, 435), (1731, 341, 1862, 435),
                 (1452, 463, 1582, 558)]
FEATURE_TITLE_POS = [(1519, 85), (1657, 85), (1797, 85), (1527, 208), (1649, 208), (1793, 208), (1519, 329), (1659, 329), (1792, 329), (1528, 451)]
frame = dict(showline=True, mirror=True, linecolor='#555555', linewidth=1.5, ticks='', showticklabels=False)
all_x = [p[0] for pts in CLUSTERS for p in pts]
all_y = [p[1] for pts in CLUSTERS for p in pts]
for g, gene in enumerate(GENES):
    n = 3 + g
    add_axes(n, FEATURE_BOXES[g], dict(range=[-38, 40], **frame), dict(range=[-45, 42], **frame))
    levels = [GENE_LEVELS[g][c] for c, pts in enumerate(CLUSTERS) for p in pts]
    fig.add_trace(go.Scatter(x=all_x, y=all_y, mode='markers', xaxis=f'x{n}', yaxis=f'y{n}', showlegend=False,
                             marker=dict(size=2.8, color=levels, cmin=0, cmax=4, colorscale=FEATURE_SCALE)))
    text(FEATURE_TITLE_POS[g][0], FEATURE_TITLE_POS[g][1], gene, 21, 'center')

# Panel C
add_axes(13, (56, 744, 872, 1231),
         dict(range=[-.586, 9.586], visible=False),
         dict(range=[-4.27, 3.36], tickvals=[-4, -2, 0, 2], showline=True, linecolor='#999999', linewidth=1.5, ticks='',
              tickfont=dict(size=16, color='#231815'), ticklabelstandoff=5))
columns = list(range(10))
fig.add_trace(go.Bar(x=columns, y=[t - b for t, b in zip(VOLCANO_TOP, VOLCANO_BOTTOM)], base=VOLCANO_BOTTOM, width=.9,
                     marker=dict(color='#EEEEEE', line=dict(width=0)), xaxis='x13', yaxis='y13', showlegend=False))
for sign_values, color in [(UP_VALUES, '#C93A3C'), (DOWN_VALUES, '#1F8FB5')]:
    px, py = [], []
    for c, values in enumerate(sign_values):
        for k, v in enumerate(values):
            px.append(c + JITTER[k % len(JITTER)])
            py.append(v)
    fig.add_trace(go.Scatter(x=px, y=py, mode='markers', marker=dict(size=2.4, color=color), xaxis='x13', yaxis='y13', showlegend=False))
fig.add_trace(go.Bar(x=columns, y=[.53] * 10, base=[-.27] * 10, width=1, marker=dict(color=BAND_COLORS, line=dict(width=0)),
                     xaxis='x13', yaxis='y13', showlegend=False))
BAND_TEXT_OFFSET = [.02, .06, .06, .06, .01, 0, .02, .03, .03, .06]
fig.add_trace(go.Scatter(x=[c + o for c, o in zip(columns, BAND_TEXT_OFFSET)], y=[-.05] * 10, text=VOLCANO_NAMES, mode='text',
                         textfont=dict(size=9.5, color='#231815'), xaxis='x13', yaxis='y13', showlegend=False))
lx = [c + lab[1] for c, labs in enumerate(VOLCANO_LABELS) for lab in labs]
ly = [lab[2] for labs in VOLCANO_LABELS for lab in labs]
lt = [lab[0] for labs in VOLCANO_LABELS for lab in labs]
fig.add_trace(go.Scatter(x=lx, y=ly, text=lt, mode='text', textfont=dict(size=6.6, color='#444444'), xaxis='x13', yaxis='y13', showlegend=False))
dot(612, 790, 8, '#1F8FB5')
dot(612, 800, 8, '#C93A3C')
text(621, 790, 'sigDown', 7, color='#444444')
text(621, 800, 'sigUp', 7, color='#444444')
text(22, 983, 'Average log2Foldchange', 26, 'center', angle=-90)
text(497, 1242, 'Clusters', 26, 'center')

# Panel D heatmap
add_axes(14, (1037, 806.6, 1333, 1213),
         dict(range=[-.5, 1.5], tickvals=[0, 1], ticktext=['Normal', 'Tumor'], ticks='outside', ticklen=2, tickcolor='#555555',
              tickfont=dict(size=14.5, color='#231815')),
         dict(range=[-.5, 9.5], ticks='', showticklabels=False))
z = [[n, t] for n, t in zip(ROLE_NORMAL, ROLE_TUMOR)]
marks = [['+' if v else '+/-' for v in row] for row in z]
fig.add_trace(go.Heatmap(z=z, x=[0, 1], y=ROLE_ROWS, text=marks, texttemplate='%{text}', textfont=dict(size=6, color='#777777'),
                         colorscale=[[0, '#FBE5CE'], [1, '#DC5518']], showscale=False, xaxis='x14', yaxis='y14', xgap=0, ygap=0))
for row in ROLE_ROWS:
    annotations.append(dict(x=1030 / W, y=row, xref='paper', yref='y14', text=row, showarrow=False, xanchor='right', yanchor='middle',
                            yshift=-4.5, font=dict(size=15, color='#231815', family=SANS)))
text(1189, 788, 'Tissue Distribution Preference', 22.8, 'center')
text(1340, 995, 'Role', 15.5)
rect(1340, 1005.6, 1352, 1016, '#FBE5CE')
rect(1340, 1016, 1352, 1027, '#DC5518')
text(1346, 1010.8, '+/-', 6, 'center', color='#777777')
text(1346, 1021.5, '+', 6, 'center', color='#444444')
text(1357, 1010, '0', 11.5)
text(1357, 1022, '>1', 11.5)

# Panel D trajectory
hidden = dict(visible=False)
add_axes(15, (1400, 790, 1820, 1210), dict(range=[0, 126], **hidden), dict(range=[126, 0], **hidden))
for i, pts in enumerate(TRAJ_POINTS):
    fig.add_trace(go.Scatter(x=xs(pts), y=ys(pts), mode='markers', xaxis='x15', yaxis='y15', showlegend=False,
                             marker=dict(size=3.4, color=TRAJ_COLORS[i])))
for branch in [TREE_LEFT, TREE_RIGHT, TREE_DOWN, TREE_SIDE]:
    fig.add_trace(go.Scatter(x=xs(branch), y=ys(branch), mode='lines', xaxis='x15', yaxis='y15', showlegend=False,
                             line=dict(color='#222222', width=1.1)))
fig.add_trace(go.Scatter(x=[n[1] for n in TREE_NODES], y=[n[2] for n in TREE_NODES], text=[n[0] for n in TREE_NODES],
                         mode='markers+text', textposition='middle center', xaxis='x15', yaxis='y15', showlegend=False,
                         marker=dict(size=13, color='rgba(255,255,255,.8)'), textfont=dict(size=12, color='#222222', family=SANS)))
text(1445, 784, 'nCells:2801', 11.5, 'center')
for dx, dy in [(0, 60), (-60, 0)]:
    tip_x, tip_y = 1409 - dx, 1195 - dy
    annotations.append(dict(x=tip_x / W, y=1 - tip_y / H, ax=dx, ay=dy, xref='paper', yref='paper', axref='pixel', ayref='pixel',
                            showarrow=True, arrowhead=2, arrowwidth=1, arrowcolor='#222222', text=''))
text(1409, 1203, 'DDRTree_1', 10.5)
text(1398, 1164, 'DDRTree_2', 10.5, 'center', angle=-90)
text(1821, 937, 'meta_celltype:', 10.5)
D_LEGEND_Y = [953, 965, 976, 986.5, 997.5, 1009, 1020, 1030, 1041.5, 1053]
for i, y in enumerate(D_LEGEND_Y):
    dot(1826, y, 10, TRAJ_COLORS[i])
    text(1837, y, TRAJ_LEGEND[i], 10.5)


# Panels E and F
def box_panel(n, box, xrange, yrange, yticks, ytext, q1, med, q3, low, high, outliers, sig_y, sig_x0, sig_x1, stars, star_x, star_y):
    add_axes(n, box,
             dict(range=xrange, tickvals=[0, 1, 2, 3], ticktext=BOX_NAMES, tickangle=-45, showline=True, linecolor='#333333', linewidth=1,
                  ticks='outside', ticklen=3, tickcolor='#333333', ticklabelstandoff=-8, tickfont=dict(size=16.5, color='#231815')),
             dict(range=yrange, tickvals=yticks, ticktext=ytext, tickangle=-90, showline=True, linecolor='#333333', linewidth=1,
                  ticks='outside', ticklen=3, tickcolor='#333333', tickfont=dict(size=26, color='#231815')))
    ax = dict(xaxis=f'x{n}', yaxis=f'y{n}', showlegend=False)
    for i, name in enumerate(BOX_NAMES):
        fig.add_trace(go.Box(x=[i], q1=[q1[i]], median=[med[i]], q3=[q3[i]], lowerfence=[low[i]], upperfence=[high[i]], width=.68,
                             whiskerwidth=0, fillcolor=BOX_COLORS[i], line=dict(color=BOX_COLORS[i], width=5), boxpoints=False, name=name, **ax))
        fig.add_trace(go.Scatter(x=[i - .35, i + .35], y=[med[i], med[i]], mode='lines', line=dict(color='white', width=1.6), **ax))
    for i, values in outliers:
        fig.add_trace(go.Scatter(x=[i] * len(values), y=values, mode='markers',
                                 marker=dict(size=3.4, color=BOX_COLORS[i], symbol='square'), **ax))
    for y, x0, x1 in zip(sig_y, sig_x0, sig_x1):
        fig.add_trace(go.Scatter(x=[x0, x1], y=[y, y], mode='lines', line=dict(color='#222222', width=1), **ax))
    for s, x, y in zip(stars, star_x, star_y):
        annotations.append(dict(x=x, y=y, xref=f'x{n}', yref=f'y{n}', text=s, showarrow=False, yshift=-8,
                                font=dict(size=36, color='#000000', family=SANS)))


box_panel(16, (71, 1422, 791, 2182.6), [-.595, 3.6], [-.782, 4.66], [0, 1, 2, 3, 4], ['0', '1', '2', '3', '4'],
          E_Q1, E_MEDIAN, E_Q3, E_LOW, E_HIGH, [(1, E_OUTLIERS_C05)], E_SIG_Y, E_SIG_X0, E_SIG_X1, E_STARS, E_STAR_X, E_STAR_Y)
box_panel(17, (1053, 1428, 1769, 2190), [-.598, 3.6], [-.013, 1.383], [0, .5, 1], ['0.0', '0.5', '1.0'],
          F_Q1, F_MEDIAN, F_Q3, F_LOW, F_HIGH, [(0, F_OUTLIERS_C04), (2, F_OUTLIERS_C07)], F_SIG_Y, F_SIG_X0, F_SIG_X1, F_STARS, F_STAR_X, F_STAR_Y)


def box_legend(title_x, title_y, sw0, sw1, ycs, text_x):
    text(title_x, title_y, 'meta_celltype', 26.5)
    for i, y in enumerate(ycs):
        xm = (sw0 + sw1) / 2
        seg(xm, y - 14, xm, y + 14, BOX_COLORS[i], 1)
        rect(sw0, y - 10.5, sw1, y + 10.5, BOX_COLORS[i])
        seg(sw0, y, sw1, y, 'white', 1.5)
        text(text_x[i], y, BOX_NAMES[i], 25)


text(78, 1400, 'Upregulated NET-signature expression in TANs', 27.2)
text(20, 1866, 'Expressions', 27, 'center', angle=-90)
text(399, 2297, 'Subtypes', 27, 'center')
box_legend(710, 1624, 709, 750, [1664, 1700.5, 1736, 1777], [759, 759, 759, 756])
text(1056, 1400, 'Downregulated NET-signature expression in TANs', 27.2)
text(997, 1804, 'Expressions', 27, 'center', angle=-90)
text(1396, 2300, 'Subtypes', 27, 'center')
box_legend(1695, 1631.6, 1694, 1734, [1672, 1708, 1743.5, 1784.5], [1743, 1743, 1743, 1741])


# Panel G
def dot_panel(n, box, xrange, yrange, terms, red, px, py, counts, padj, diameter, bar, right_edges):
    cats = ['Neu_c09_HLA', 'Neu_c07_KLK3']
    gridded = dict(showline=True, mirror=True, linecolor='#444444', linewidth=1.5, showticklabels=True)
    add_axes(n, box,
             dict(range=xrange, type='category', categoryorder='array', categoryarray=cats, ticks='outside', ticklen=6, tickwidth=2,
                  tickcolor='#222222', tickangle=-90, ticklabelstandoff=-8, tickfont=dict(size=25, color='#231815'), **gridded),
             dict(range=yrange, type='category', categoryorder='array', categoryarray=terms, ticks='outside', ticklen=6, tickwidth=2.5,
                  tickcolor='#222222', tickvals=terms, ticktext=[''] * len(terms), **gridded))
    layout[f'xaxis{n}'].update(showgrid=True, gridcolor='#EBEBEB', gridwidth=2)
    layout[f'yaxis{n}'].update(showgrid=True, gridcolor='#EBEBEB', gridwidth=2)
    fig.add_trace(go.Scatter(x=px, y=py, mode='markers', xaxis=f'x{n}', yaxis=f'y{n}', showlegend=False,
                             marker=dict(size=[diameter[c] for c in counts], opacity=1, color=padj, cmin=bar['cmin'], cmax=bar['cmax'], colorscale=PADJ_SCALE,
                                         line=dict(color='#111111', width=1.5),
                                         colorbar=dict(x=bar['x'] / W, y=1 - bar['top'] / H, xanchor='left', yanchor='top', lenmode='pixels', len=bar['len'],
                                                       thicknessmode='pixels', thickness=35, outlinewidth=0, ticks='inside', ticklen=7, tickcolor='white',
                                                       tickvals=[.25, .5, .75], ticktext=['0.25', '0.50', '0.75'], xpad=0, ypad=0,
                                                       tickfont=dict(size=16, color='#231815')))))
    for term, edge in zip(terms, right_edges):
        annotations.append(dict(x=edge / W, y=term, xref='paper', yref=f'y{n}', text=term, showarrow=False, xanchor='right', yanchor='middle',
                                font=dict(size=19, family=SANS, color='#E60012' if term in red else '#231815')))


dot_panel(18, (524, 2418, 790, 2975), [-.595, 1.603], [-.588, 9.588], G1_TERMS, G1_RED, G1_X, G1_Y, G1_COUNT, G1_PADJ, G1_DIAMETER,
          dict(cmin=.04, cmax=.92, x=824, top=2498, len=176), [499, 501, 505, 501, 488, 501, 487, 500, 504, 494])
G2_EDGES = [1374, 1370, 1381, 1364, 1383, 1382, 1385, 1372, 1387, 1380, 1389, 1380, 1380, 1387, 1388]
dot_panel(19, (1407, 2414.5, 1702, 2976), [-.593, 1.593], [-.595, 14.58], G2_TERMS, G2_RED, G2_X, G2_Y, G2_COUNT, G2_PADJ, G2_DIAMETER,
          dict(cmin=0, cmax=.9125, x=1737, top=2461, len=176), G2_EDGES)

text(824, 2477, 'p.adjust', 20)
text(824, 2731, 'Count', 20)
G1_LEGEND_D = [5, 18, 23, 26, 28]
G1_LEGEND_Y = [2768.5, 2804, 2839, 2875, 2910]
for label, d, y in zip(G1_LEGEND_COUNTS, G1_LEGEND_D, G1_LEGEND_Y):
    dot(841, y, d, 'white', '#111111', 1.2)
    text(870, y, label, 16)
text(1737, 2440, 'p.adjust', 20)
text(1737, 2694, 'Count', 20)
G2_LEGEND_D = [6, 17, 20, 22, 24, 27, 28]
G2_LEGEND_Y = [2733, 2768.5, 2804, 2839, 2875, 2910, 2946]
for label, d, y in zip(G2_LEGEND_COUNTS, G2_LEGEND_D, G2_LEGEND_Y):
    dot(1754, y, d, 'white', '#111111', 1.2)
    text(1784, y, label, 16)

fig.update_layout(width=W, height=H, margin=dict(l=0, r=0, t=0, b=0, autoexpand=False), paper_bgcolor='white', plot_bgcolor='rgba(0,0,0,0)',
                  font=dict(family=SANS), showlegend=False, barmode='overlay', boxmode='overlay',
                  annotations=annotations, shapes=shapes, **layout)
fig.write_html('out.html', config={'displayModeBar': False}, post_script="document.body.style.margin='0';")
